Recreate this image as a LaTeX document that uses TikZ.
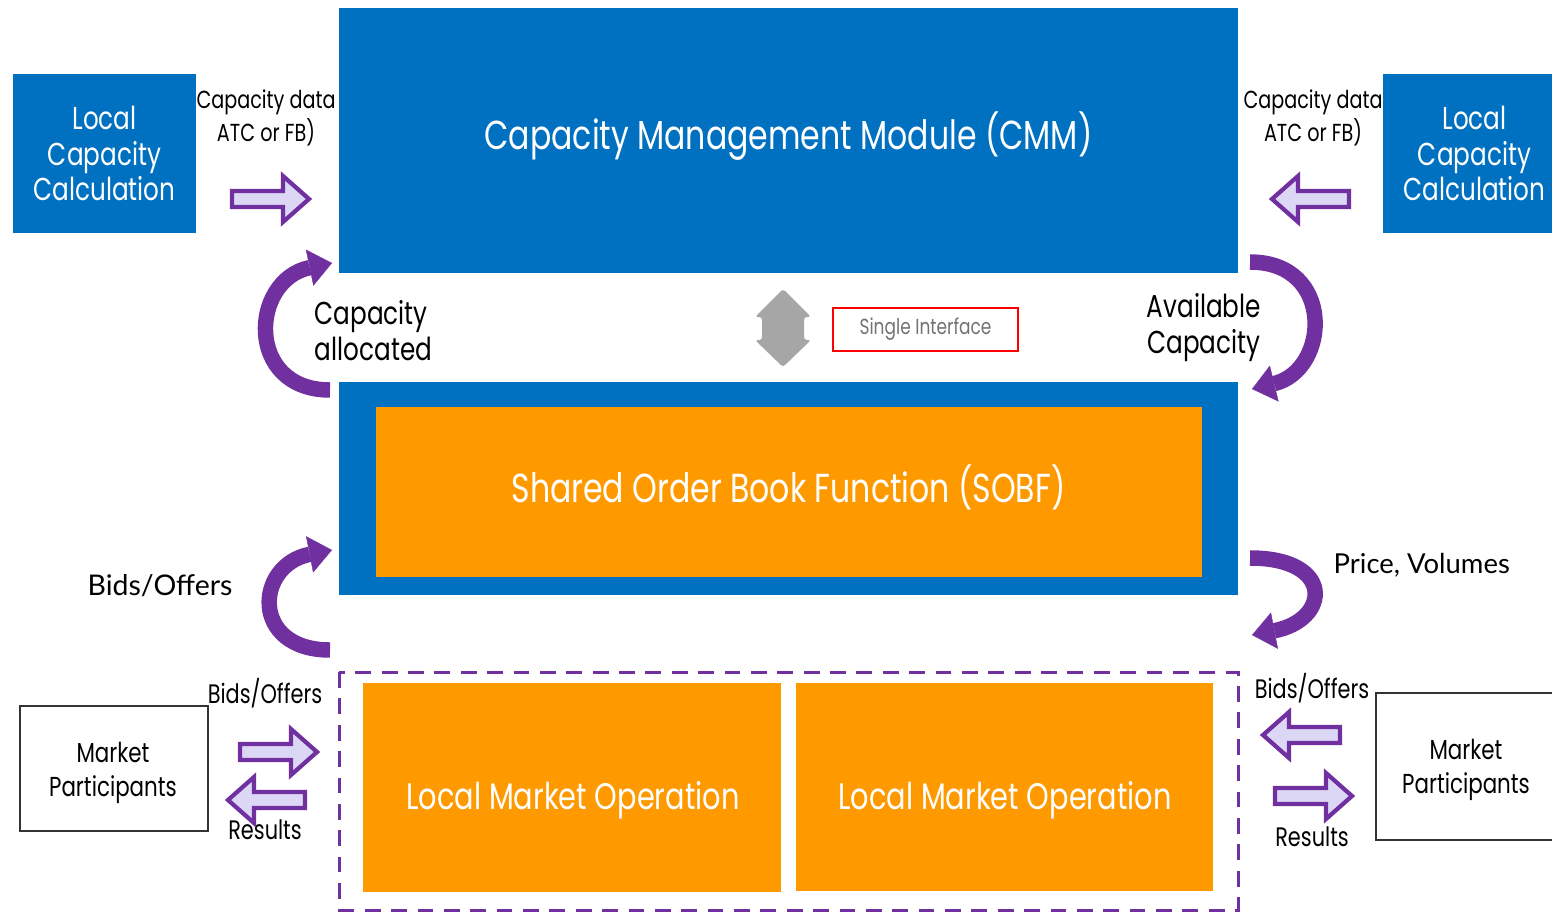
\documentclass[tikz,border=0pt]{standalone}
\usepackage{fontspec}
\setmainfont{Poppins}[FakeStretch=0.78]
\newfontfamily\gillfont{Lato}
\usetikzlibrary{arrows.meta}

\definecolor{cmmblue}{RGB}{0,112,192}
\definecolor{sobforange}{RGB}{255,153,0}
\definecolor{flowpurple}{RGB}{112,48,160}
\definecolor{arrowfill}{RGB}{221,215,246}
\definecolor{ifacegray}{RGB}{166,166,166}

\tikzset{
  bluebox/.style={fill=cmmblue, text=white, inner sep=0pt, align=center},
  orangebox/.style={fill=sobforange, text=white, inner sep=0pt, align=center},
  mpbox/.style={draw=black!80, line width=0.7pt, fill=white, align=center, inner sep=0pt},
  lbl/.style={align=center, inner sep=0pt, text=black},
  whitetext/.style={text=white, inner sep=0pt},
  flow/.style={draw=flowpurple, line width=4.4pt, -{Triangle[width=10.5pt,length=6.5pt,line width=0.1pt]}},
  fatarrow/.pic={\draw[draw=flowpurple, line width=1.2pt, fill=arrowfill, line join=miter] (0,-8) -- (51,-8) -- (51,-23) -- (77,0) -- (51,23) -- (51,8) -- (0,8) -- cycle;}
}

\begin{document}
\begin{tikzpicture}[x=0.01cm, y=-0.01cm]
\useasboundingbox (0,0) rectangle (1552,912);

% capacity management module
\node[bluebox, minimum width=8.99cm, minimum height=2.65cm] (cmm) at (788.5,140.5) {};
\node[whitetext, font=\fontsize{11.5}{13}\selectfont] (cmmtext) at (788.5,136) {Capacity Management Module (CMM)};
\node[bluebox, minimum width=1.83cm, minimum height=1.59cm, font=\fontsize{9}{10.2}\selectfont] (lccl) at (104.5,153.5) {Local\\Capacity\\Calculation};
\node[bluebox, minimum width=1.83cm, minimum height=1.59cm, font=\fontsize{9}{10.2}\selectfont] (lccr) at (1474.5,153.5) {Local\\Capacity\\Calculation};
\node[lbl, font=\fontsize{7}{7.2}\selectfont] (capdatal) at (266,117.5) {Capacity data\\ATC or FB)};
\node[lbl, font=\fontsize{7}{7.2}\selectfont] (capdatar) at (1313,117.5) {Capacity data\\ATC or FB)};
\pic (inl) at (232,199) {fatarrow};
\pic[rotate=180] (inr) at (1349,199) {fatarrow};

% shared order book
\node[bluebox, minimum width=8.99cm, minimum height=2.13cm] (sobfouter) at (788.5,488.5) {};
\node[orangebox, minimum width=8.26cm, minimum height=1.70cm] (sobf) at (789,492) {};
\node[whitetext, font=\fontsize{11.5}{13}\selectfont] (sobftext) at (788.5,487) {Shared Order Book Function (SOBF)};

% between CMM and SOBF
\draw[flow] (330,390) .. controls (245,390) and (250,280) .. (332,263);
\node[lbl, align=left, anchor=west, font=\fontsize{9}{10.2}\selectfont] (capalloc) at (314,331) {Capacity\\allocated};
\draw[flow] (1250,262) .. controls (1335,262) and (1330,370) .. (1252,389);
\node[lbl, font=\fontsize{9}{10.2}\selectfont] (availcap) at (1204,328) {Available\\Capacity};
\fill[ifacegray, rounded corners=0.8pt] (783,289) -- (811,317) -- (804,317) -- (804,340) -- (811,340) -- (783,367) -- (755,340) -- (762,340) -- (762,317) -- (755,317) -- cycle;
\node[draw=red, line width=0.8pt, minimum width=1.85cm, minimum height=0.43cm, text=black!55, inner sep=0pt, font=\fontsize{6.2}{7}\selectfont] (iface) at (925.5,329.5) {Single Interface};

% between SOBF and local markets
\draw[flow] (330,650) .. controls (250,650) and (255,565) .. (332,550);
\node[lbl, font=\gillfont\fontsize{8.1}{10}\selectfont] (bidsbig) at (160,586) {Bids/Offers};
\draw[flow] (1250,558) .. controls (1335,558) and (1330,620) .. (1252,635);
\node[lbl, anchor=west, font=\gillfont\fontsize{7.8}{10}\selectfont] (pricevol) at (1333,565) {Price, Volumes};

% local market operations
\draw[flowpurple, line width=0.85pt, dash pattern=on 4.5pt off 3pt] (339,672) rectangle (1238,910);
\node[orangebox, minimum width=4.18cm, minimum height=2.09cm] (lmol) at (572,787.5) {};
\node[orangebox, minimum width=4.17cm, minimum height=2.08cm] (lmor) at (1004.5,787) {};
\node[whitetext, font=\fontsize{10.5}{12}\selectfont] (lmoltext) at (573,800) {Local Market Operation};
\node[whitetext, font=\fontsize{10.5}{12}\selectfont] (lmortext) at (1005,800) {Local Market Operation};

% market participants
\node[mpbox, minimum width=1.88cm, minimum height=1.25cm] (mpl) at (114,768.5) {};
\node[mpbox, minimum width=1.80cm, minimum height=1.47cm] (mpr) at (1466,766.5) {};
\node[lbl, font=\fontsize{7.8}{9.7}\selectfont] (mpltext) at (113,772.5) {Market\\Participants};
\node[lbl, font=\fontsize{7.8}{9.7}\selectfont] (mprtext) at (1466,769.5) {Market\\Participants};
\node[lbl, font=\fontsize{7.6}{8}\selectfont] (bidsl) at (265,693) {Bids/Offers};
\node[lbl, font=\fontsize{7.6}{8}\selectfont] (resl) at (265,830) {Results};
\pic (bidinl) at (240,752) {fatarrow};
\pic[rotate=180] (resoutl) at (305,800) {fatarrow};
\node[lbl, font=\fontsize{7.6}{8}\selectfont] (bidsr) at (1312,688) {Bids/Offers};
\node[lbl, font=\fontsize{7.6}{8}\selectfont] (resr) at (1312,837) {Results};
\pic[rotate=180] (bidinr) at (1340,735) {fatarrow};
\pic (resoutr) at (1275,796) {fatarrow};
\end{tikzpicture}
\end{document}
